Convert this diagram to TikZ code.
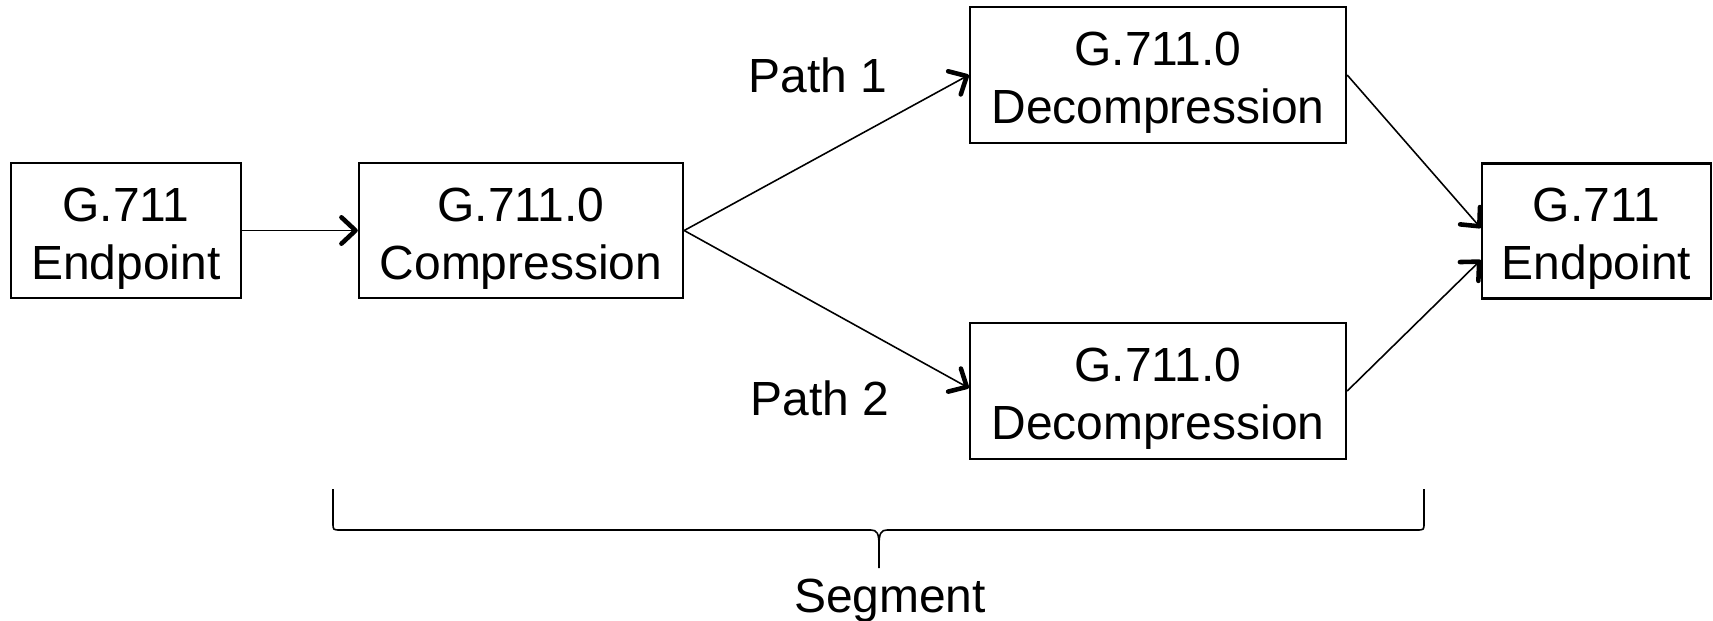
\documentclass[tikz,border=0pt]{standalone}
\usepackage{fontspec}
\setmainfont{Liberation Sans}
\usetikzlibrary{arrows.meta,calc}
\begin{document}
\begin{tikzpicture}[x=0.02cm,y=-0.02cm,
  box/.style={draw,line width=1.4pt,inner sep=0pt,minimum height=2.7cm},
  boxtext/.style={align=center,inner sep=0pt,text depth=0pt,yshift=-0.06cm,
    font=\fontsize{27.3}{32.8}\selectfont},
  lbl/.style={font=\fontsize{27.3}{32.8}\selectfont,inner sep=0pt,anchor=base},
  conn/.style={line width=0.9pt,-{Straight Barb[length=8pt,width=15pt,line width=2.6pt,line cap=round,line join=round]}},
  bracepath/.style={line width=0.9pt}]
\useasboundingbox (0,0) rectangle (1713,620);
\node[box,minimum width=4.6cm,label={[boxtext]center:G.711\\Endpoint}] (A) at (126,230.5) {};
\node[box,minimum width=6.48cm,label={[boxtext]center:G.711.0\\Compression}] (B) at (521,230.5) {};
\node[box,minimum width=7.52cm,minimum height=2.72cm,label={[boxtext]center:G.711.0\\Decompression}] (D1) at (1158,75) {};
\node[box,minimum width=7.52cm,minimum height=2.72cm,label={[boxtext]center:G.711.0\\Decompression}] (D2) at (1158,391) {};
\node[box,minimum width=4.58cm,label={[boxtext]center:G.711\\Endpoint}] (E) at (1596.5,231) {};
\node[lbl] (p1) at (818,92) {Path 1};
\node[lbl] (p2) at (820,415) {Path 2};
\node[lbl] (seg) at (890,612) {Segment};
\coordinate (e1) at ($(E.west)+(0,-3)$);
\coordinate (e2) at ($(E.west)+(0,29)$);
\coordinate (d2in) at ($(D2.west)+(0,-3)$);
\draw[conn] (A.east) -- (B.west);
\draw[conn] (B.east) -- (D1.west);
\draw[conn] (B.east) -- (d2in);
\draw[conn] (D1.east) -- (e1);
\draw[conn] (D2.east) -- (e2);
\coordinate (bl) at (333,489);
\coordinate (br) at (1424,489);
\coordinate (bt) at (879,568);
\draw[bracepath] (bl) -- (333,523) .. controls (333,530) .. (341,530) -- (871,530)
  .. controls (877,530) and (879,533) .. (879,546) -- (bt);
\draw[bracepath] (br) -- (1424,523) .. controls (1424,530) .. (1416,530) -- (887,530)
  .. controls (881,530) and (879,533) .. (879,546);
\end{tikzpicture}
\end{document}
